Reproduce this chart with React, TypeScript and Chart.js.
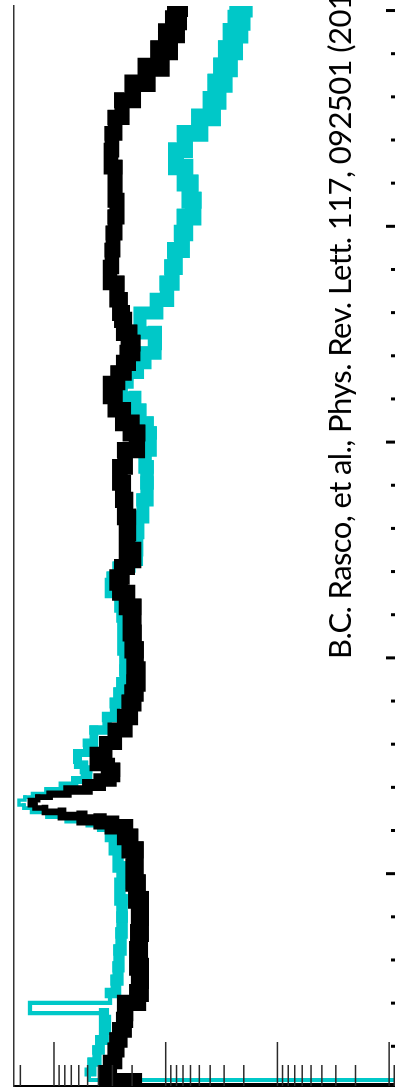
import React, { useEffect, useRef } from 'react';
import { Chart, registerables } from 'chart.js';

Chart.register(...registerables);

// Excitation energy (MeV) of each histogram bin edge, shared by both spectra
const ENERGY_MEV = [
  0.021, 0.044, 0.081, 0.127, 0.183, 0.229, 0.276, 0.322, 0.354, 0.401,
  0.447, 0.507, 0.568, 0.646, 0.725, 0.799, 0.878, 0.956, 1.031, 1.110,
  1.170, 1.216, 1.235, 1.249, 1.267, 1.286, 1.304, 1.318, 1.332, 1.341,
  1.355, 1.369, 1.388, 1.411, 1.434, 1.457, 1.481, 1.504, 1.527, 1.559,
  1.606, 1.666, 1.726, 1.791, 1.837, 1.884, 1.944, 2.037, 2.115, 2.190,
  2.236, 2.301, 2.347, 2.375, 2.421, 2.454, 2.500, 2.579, 2.653, 2.732,
  2.811, 2.885, 2.963, 3.042, 3.088, 3.149, 3.209, 3.274, 3.320, 3.367,
  3.413, 3.459, 3.506, 3.566, 3.598, 3.659, 3.737, 3.811, 3.890, 3.969,
  4.043, 4.121, 4.200, 4.274, 4.353, 4.431, 4.505, 4.584, 4.663, 4.737,
  4.816, 4.895, 4.955, 5.016, 5.049,
];

// Black spectrum (log-scale intensity)
const BLACK_SPECTRUM = [
  0.001, 1.88, 3.42, 3.15, 2.84, 2.73, 2.57, 2.36, 2.31, 2.31,
  1.77, 1.70, 1.70, 1.77, 1.73, 1.70, 1.70, 1.81, 1.92, 1.88,
  2.09, 2.31, 3.03, 3.87, 5.62, 8.48, 12.04, 14.79, 16.4, 16.4,
  13.91, 10.86, 7.49, 4.96, 3.87, 3.15, 2.96, 3.29, 4.21, 4.21,
  3.42, 2.84, 2.31, 2.09, 1.96, 1.88, 1.81, 1.88, 1.96, 2.04,
  1.96, 2.22, 2.57, 2.73, 2.46, 2.22, 1.96, 2.22, 2.18, 2.31,
  2.41, 2.57, 2.31, 1.81, 2.04, 2.41, 2.84, 3.15, 2.67, 2.36,
  2.18, 2.00, 2.13, 2.36, 2.46, 2.57, 2.73, 3.15, 3.03, 2.96,
  2.84, 2.73, 2.84, 2.84, 3.09, 3.03, 2.84, 2.46, 1.96, 1.47,
  1.12, 0.954, 0.826, 0.792, 0.776,
];

// Cyan spectrum (log-scale intensity); null = no bin
const CYAN_SPECTRUM = [
  null, 0.001, 4.86, 4.57, 4.12, 3.87, 3.57, 3.42, 3.57, 16.4,
  3.15, 2.79, 2.67, 2.62, 2.51, 2.46, 2.46, 2.57, 2.46, 2.67,
  2.90, 3.15, 3.72, 4.76, 7.49, 11.32, 15.74, 18.56, 20.58, 20.58,
  18.18, 15.42, 11.55, 8.48, 6.49, 5.28, 4.96, 5.39, 6.10, 6.22,
  5.06, 4.39, 3.35, 2.84, 2.62, 2.46, 2.31, 2.31, 2.41, 2.41,
  2.46, 2.57, 3.15, 3.03, 2.67, 2.09, 1.81, 1.81, 1.77, 1.60,
  1.47, 1.47, 1.53, 1.38, 1.47, 1.70, 1.88, 2.46, 2.18, 1.77,
  1.53, 1.25, 1.25, 1.70, 1.70, 1.20, 0.974, 0.878, 0.826, 0.715,
  0.672, 0.569, 0.606, 0.672, 0.809, 0.672, 0.493, 0.385, 0.347, 0.307,
  0.277, 0.250, 0.225, 0.216, 0.207,
];

// Axis ranges and ticks
const INTENSITY_MIN = 0.00868;
const INTENSITY_MAX = 22.8;
const ENERGY_MIN = 0.016;
const ENERGY_MAX = 5.021;
const LOG_DECADES = [0.001, 0.01, 0.1, 1, 10];
const LOG_MINOR_MULTIPLIERS = [2, 3, 4, 5, 6, 7, 8, 9];
const ENERGY_MAJOR_TICKS = [0, 1, 2, 3, 4, 5];
const ENERGY_MINOR_DIVISIONS = 5;

const CITATION = 'B.C. Rasco, et al., Phys. Rev. Lett. 117, 092501 (2016)';

const CANVAS_W = 400;
const CANVAS_H = 1092;

const inwardTicks = {
  id: 'inwardTicks',
  afterDatasetsDraw(chart: any) {
    const { ctx, chartArea, scales } = chart;
    const xs = scales.x;
    const ys = scales.y;
    ctx.save();
    // logarithmic (horizontal) axis ticks, pointing up from the bottom edge
    ctx.strokeStyle = '#2a2a2a';
    ctx.lineWidth = 1.5;
    for (const dec of LOG_DECADES) {
      const mults = [1, ...LOG_MINOR_MULTIPLIERS];
      for (const m of mults) {
        const v = dec * m;
        if (v < xs.min || v > xs.max) continue;
        const px = xs.getPixelForValue(v);
        const len = m === 1 ? 44 : 21;
        ctx.beginPath();
        ctx.moveTo(px, chartArea.bottom);
        ctx.lineTo(px, chartArea.bottom - len);
        ctx.stroke();
      }
    }
    // energy (vertical) axis ticks, pointing left from the right edge
    ctx.strokeStyle = '#000';
    ctx.lineWidth = 3;
    for (let i = 0; i < ENERGY_MAJOR_TICKS.length; i++) {
      const e0 = ENERGY_MAJOR_TICKS[i];
      for (let k = 0; k < ENERGY_MINOR_DIVISIONS; k++) {
        const step = i + 1 < ENERGY_MAJOR_TICKS.length ? (ENERGY_MAJOR_TICKS[i + 1] - e0) : 1;
        const e = e0 + (k * step) / ENERGY_MINOR_DIVISIONS;
        if (e < ys.min || e > ys.max) continue;
        const py = ys.getPixelForValue(e);
        const len = k === 0 ? 10 : 5;
        ctx.beginPath();
        ctx.moveTo(chartArea.right, py);
        ctx.lineTo(chartArea.right - len, py);
        ctx.stroke();
      }
    }
    ctx.restore();
  },
};

function toPoints(values: (number | null)[]) {
  const pts: { x: number; y: number }[] = [];
  ENERGY_MEV.forEach((e, i) => {
    const v = values[i];
    if (v !== null && v !== undefined) pts.push({ x: v, y: e });
  });
  return pts;
}

function widthFor(k: number, cap: number) {
  return (c: any) => {
    const area = c.chart && c.chart.chartArea ? c.chart.chartArea : { left: 14, right: 396 };
    const x0 = c.p0.x;
    const x1 = c.p1.x;
    if (Math.max(x0, x1) > area.right) return 4;
    const m = Math.min(x0, x1);
    return Math.max(3, Math.min(cap, 3 + k * (m - area.left)));
  };
}

export default function App() {
  const ref = useRef<HTMLCanvasElement>(null);

  useEffect(() => {
    document.body.style.margin = '0';
    const canvas = ref.current;
    if (!canvas) return;
    const gridOff = { drawOnChartArea: false, drawTicks: false };
    const chart = new Chart(canvas, {
      type: 'line',
      data: {
        datasets: [
          {
            label: 'black',
            data: toPoints(BLACK_SPECTRUM),
            borderColor: '#000000',
            backgroundColor: '#000000',
            borderWidth: 12,
            stepped: true,
            pointRadius: 0,
            order: 0,
            borderJoinStyle: 'miter',
            borderCapStyle: 'square',
            clip: { left: 0, top: 0, right: 0, bottom: 4 },
            segment: { borderWidth: widthFor(0.12, 20) },
            xAxisID: 'x',
            yAxisID: 'y',
          } as any,
          {
            label: 'cyan',
            data: toPoints(CYAN_SPECTRUM),
            borderColor: '#00C8C8',
            backgroundColor: '#00C8C8',
            borderWidth: 10,
            stepped: true,
            pointRadius: 0,
            order: 1,
            borderJoinStyle: 'miter',
            borderCapStyle: 'square',
            clip: { left: 0, top: 0, right: 0, bottom: 4 },
            segment: { borderWidth: widthFor(0.08, 24) },
            xAxisID: 'x',
            yAxisID: 'y',
          } as any,
        ],
      },
      options: {
        indexAxis: 'y',
        responsive: false,
        animation: false,
        devicePixelRatio: 1,
        events: [],
        layout: { padding: { left: 14, top: 6, right: CANVAS_W - 396, bottom: CANVAS_H - 1086 } },
        plugins: {
          legend: { display: false },
          tooltip: { enabled: false },
          title: { display: false },
        },
        scales: {
          x: {
            type: 'logarithmic',
            position: 'bottom',
            reverse: true,
            min: INTENSITY_MIN,
            max: INTENSITY_MAX,
            ticks: { display: false },
            grid: gridOff,
            border: { display: true, color: '#000', width: 2 },
            afterFit: (s: any) => { s.height = 0; },
          },
          y: {
            type: 'linear',
            position: 'right',
            min: ENERGY_MIN,
            max: ENERGY_MAX,
            ticks: { display: false },
            grid: gridOff,
            border: { display: true, color: '#000', width: 2 },
            afterFit: (s: any) => { s.width = 0; },
          },
          yLeft: {
            type: 'linear',
            position: 'left',
            min: ENERGY_MIN,
            max: ENERGY_MAX,
            ticks: { display: false },
            grid: gridOff,
            border: { display: true, color: '#333', width: 1.5 },
            afterFit: (s: any) => { s.width = 0; },
          },
        },
      } as any,
      plugins: [inwardTicks],
    });
    return () => chart.destroy();
  }, []);

  return (
    <div
      style={{
        position: 'fixed',
        left: 0,
        top: 0,
        width: 395,
        height: 1088,
        overflow: 'hidden',
        background: '#fff',
      }}
    >
      <canvas
        ref={ref}
        width={CANVAS_W}
        height={CANVAS_H}
        style={{ position: 'absolute', left: 0, top: 0, width: CANVAS_W, height: CANVAS_H }}
      />
      <div
        style={{
          position: 'absolute',
          left: 323,
          top: 659,
          transformOrigin: '0 0',
          transform: 'rotate(-90deg)',
          whiteSpace: 'nowrap',
          fontFamily: 'Lato, "Open Sans", sans-serif',
          fontSize: 31,
          letterSpacing: '-0.6px',
          lineHeight: '32px',
          color: '#000',
        }}
      >
        {CITATION}
      </div>
    </div>
  );
}
